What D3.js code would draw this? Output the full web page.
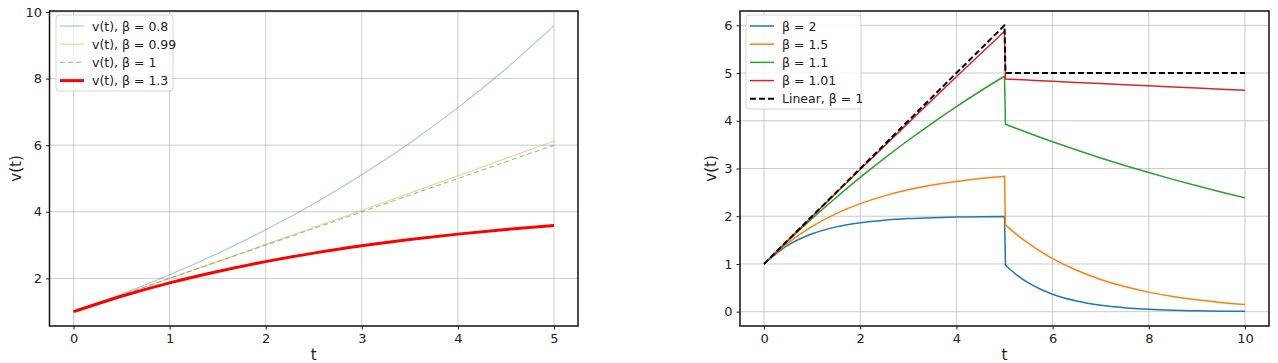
<!DOCTYPE html>
<html><head><meta charset="utf-8">
<script src="https://cdn.jsdelivr.net/npm/d3@7"></script>
<style>body{margin:0;background:#fff}svg{display:block}text{font-family:"DejaVu Sans",sans-serif}</style>
</head><body><svg id="c" width="1278" height="363"></svg>
<script>
// ---- Left panel data ----
const tLeft = [0,0.5,1,1.5,2,2.5,3,3.5,4,4.5,5];
const vB080 = [1,1.526,2.107,2.749,3.459,4.244,5.111,6.069,7.128,8.298,9.591];
const vB099 = [1,1.501,2.005,2.511,3.020,3.532,4.045,4.562,5.081,5.603,6.127];
const vB100 = [1,1.5,2,2.5,3,3.5,4,4.5,5,5.5,6];
const vB130 = [1,1.464,1.864,2.208,2.504,2.759,2.978,3.167,3.329,3.469,3.590];
const leftLabels = ["v(t), β = 0.8","v(t), β = 0.99","v(t), β = 1","v(t), β = 1.3"];
const leftXTicks = [0,1,2,3,4,5];
const leftYTicks = [2,4,6,8,10];

// ---- Right panel data ----
const tRight = [0,0.5,1,1.5,2,2.5,3,3.5,4,4.5,5,5.02,5.25,5.5,5.75,6,6.5,7,7.5,8,8.5,9,9.5,10];
const rB200 = [1,1.393,1.632,1.777,1.865,1.918,1.950,1.970,1.982,1.989,1.993,
  0.973,0.773,0.602,0.469,0.365,0.222,0.134,0.0815,0.0494,0.0300,0.0182,0.0110,0.0067];
const rB150 = [1,1.4424,1.7869,2.0553,2.2642,2.4270,2.5537,2.6525,2.7293,2.7892,2.8358,
  1.8175,1.6201,1.4297,1.2617,1.1135,0.8672,0.6754,0.5260,0.4096,0.3190,0.2485,0.1935,0.1507];
const rB110 = [1,1.4877,1.9516,2.3929,2.8127,3.2120,3.5918,3.9531,4.2968,4.6237,4.9347,
  3.9268,3.8376,3.7428,3.6504,3.5603,3.3866,3.2215,3.0643,2.9149,2.7727,2.6375,2.5089,2.3865];
const rB101 = [1,1.4988,1.9950,2.4888,2.9801,3.4690,3.9554,4.4395,4.9211,5.4003,5.8771,
  4.8761,4.8649,4.8528,4.8407,4.8286,4.8045,4.7805,4.7567,4.7330,4.7094,4.6859,4.6625,4.6392];
const rLin = [1,1.5,2,2.5,3,3.5,4,4.5,5,5.5,6,
  5,5,5,5,5,5,5,5,5,5,5,5,5];
const rightLabels = ["β = 2","β = 1.5","β = 1.1","β = 1.01","Linear, β = 1"];
const rightXTicks = [0,2,4,6,8,10];
const rightYTicks = [0,1,2,3,4,5,6];

const svg = d3.select("#c");

function panel(opt){
  const g = svg.append("g");
  const x = d3.scaleLinear().domain(opt.xd).range([opt.x0,opt.x1]);
  const y = d3.scaleLinear().domain(opt.yd).range([opt.y1,opt.y0]);
  // grid
  g.append("g").selectAll("line").data(opt.xt).join("line")
    .attr("x1",d=>x(d)).attr("x2",d=>x(d)).attr("y1",opt.y0).attr("y2",opt.y1)
    .attr("stroke","#b0b0b0").attr("stroke-width",0.8).attr("opacity",0.8);
  g.append("g").selectAll("line").data(opt.yt).join("line")
    .attr("y1",d=>y(d)).attr("y2",d=>y(d)).attr("x1",opt.x0).attr("x2",opt.x1)
    .attr("stroke","#b0b0b0").attr("stroke-width",0.8).attr("opacity",0.8);
  // axes
  const xa = g.append("g").attr("transform",`translate(0,${opt.y1})`)
    .call(d3.axisBottom(x).tickValues(opt.xt).tickFormat(d3.format("d")).tickSize(3.5).tickPadding(4));
  const ya = g.append("g").attr("transform",`translate(${opt.x0},0)`)
    .call(d3.axisLeft(y).tickValues(opt.yt).tickFormat(d3.format("d")).tickSize(3.5).tickPadding(4));
  [xa,ya].forEach(a=>{a.select(".domain").remove();
    a.selectAll("text").attr("font-size",13).attr("fill","#222").attr("font-family","DejaVu Sans");
    a.selectAll("line").attr("stroke","#222");});
  // clip
  const cid = "clip"+opt.id;
  svg.append("clipPath").attr("id",cid).append("rect")
    .attr("x",opt.x0).attr("y",opt.y0).attr("width",opt.x1-opt.x0).attr("height",opt.y1-opt.y0);
  const lg = g.append("g").attr("clip-path",`url(#${cid})`);
  const lineGen = d3.line().x(d=>x(d[0])).y(d=>y(d[1])).curve(d3.curveMonotoneX);
  opt.series.forEach(s=>{
    const pts = opt.t.map((tt,i)=>[tt,s.v[i]]);
    let d;
    if (opt.brk) {
      const pre = pts.slice(0, opt.brk+1);
      const post = pts.slice(opt.brk+1);
      d = lineGen(pre) + lineGen(post).replace(/^M/, "L");
    } else d = lineGen(pts);
    lg.append("path").attr("d",d).attr("fill","none")
      .attr("stroke",s.c).attr("stroke-width",s.w).attr("stroke-opacity",s.o||1)
      .attr("stroke-dasharray",s.dash||null).attr("stroke-linejoin","round");
  });
  // frame
  g.append("rect").attr("x",opt.x0).attr("y",opt.y0).attr("width",opt.x1-opt.x0).attr("height",opt.y1-opt.y0)
    .attr("fill","none").attr("stroke","#111").attr("stroke-width",1.5);
  // labels
  g.append("text").attr("x",(opt.x0+opt.x1)/2).attr("y",360).attr("text-anchor","middle")
    .attr("font-size",15).attr("fill","#222").text("t");
  g.append("text").attr("transform",`translate(${opt.ylx},${(opt.y0+opt.y1)/2}) rotate(-90)`)
    .attr("text-anchor","middle").attr("dy","0.35em").attr("font-size",15).attr("fill","#222").text("v(t)");
  // legend
  const L = opt.legend;
  const lgd = g.append("g");
  lgd.append("rect").attr("x",L.x).attr("y",L.y).attr("width",L.w).attr("height",L.h).attr("rx",3)
    .attr("fill","#fff").attr("fill-opacity",0.8).attr("stroke","#ccc").attr("stroke-width",0.8);
  opt.series.forEach((s,i)=>{
    const yy = L.y+11+i*18.2;
    lgd.append("line").attr("x1",L.x+4).attr("x2",L.x+28).attr("y1",yy).attr("y2",yy)
      .attr("stroke",s.c).attr("stroke-width",s.w).attr("stroke-opacity",s.o||1).attr("stroke-dasharray",s.dash||null);
    lgd.append("text").attr("x",L.x+36).attr("y",yy+4.5).attr("font-size",12.5).attr("fill","#222").text(opt.labels[i]);
  });
}

panel({id:"L", x0:49.5, x1:578, y0:11, y1:326, xd:[-0.25,5.25], yd:[0.57,10.03],
  xt:leftXTicks, yt:leftYTicks, t:tLeft, labels:leftLabels, ylx:16,
  legend:{x:56,y:15,w:117,h:76},
  series:[
    {v:vB080,c:"#1f77b4",w:1.2,o:0.4},
    {v:vB099,c:"#ff7f0e",w:1.2,o:0.4},
    {v:vB100,c:"#2ca02c",w:1.2,o:0.5,dash:"5,3"},
    {v:vB130,c:"#ff0000",w:3}
  ]});

panel({id:"R", x0:740, x1:1269, y0:11, y1:326, xd:[-0.5,10.5], yd:[-0.3,6.3],
  xt:rightXTicks, yt:rightYTicks, t:tRight, labels:rightLabels, ylx:711, brk:10,
  legend:{x:746,y:15,w:115,h:94},
  series:[
    {v:rB200,c:"#1f77b4",w:1.5},
    {v:rB150,c:"#ff7f0e",w:1.5},
    {v:rB110,c:"#2ca02c",w:1.5},
    {v:rB101,c:"#d62728",w:1.5},
    {v:rLin,c:"#000",w:2,dash:"6,3"}
  ]});
</script></body></html>
